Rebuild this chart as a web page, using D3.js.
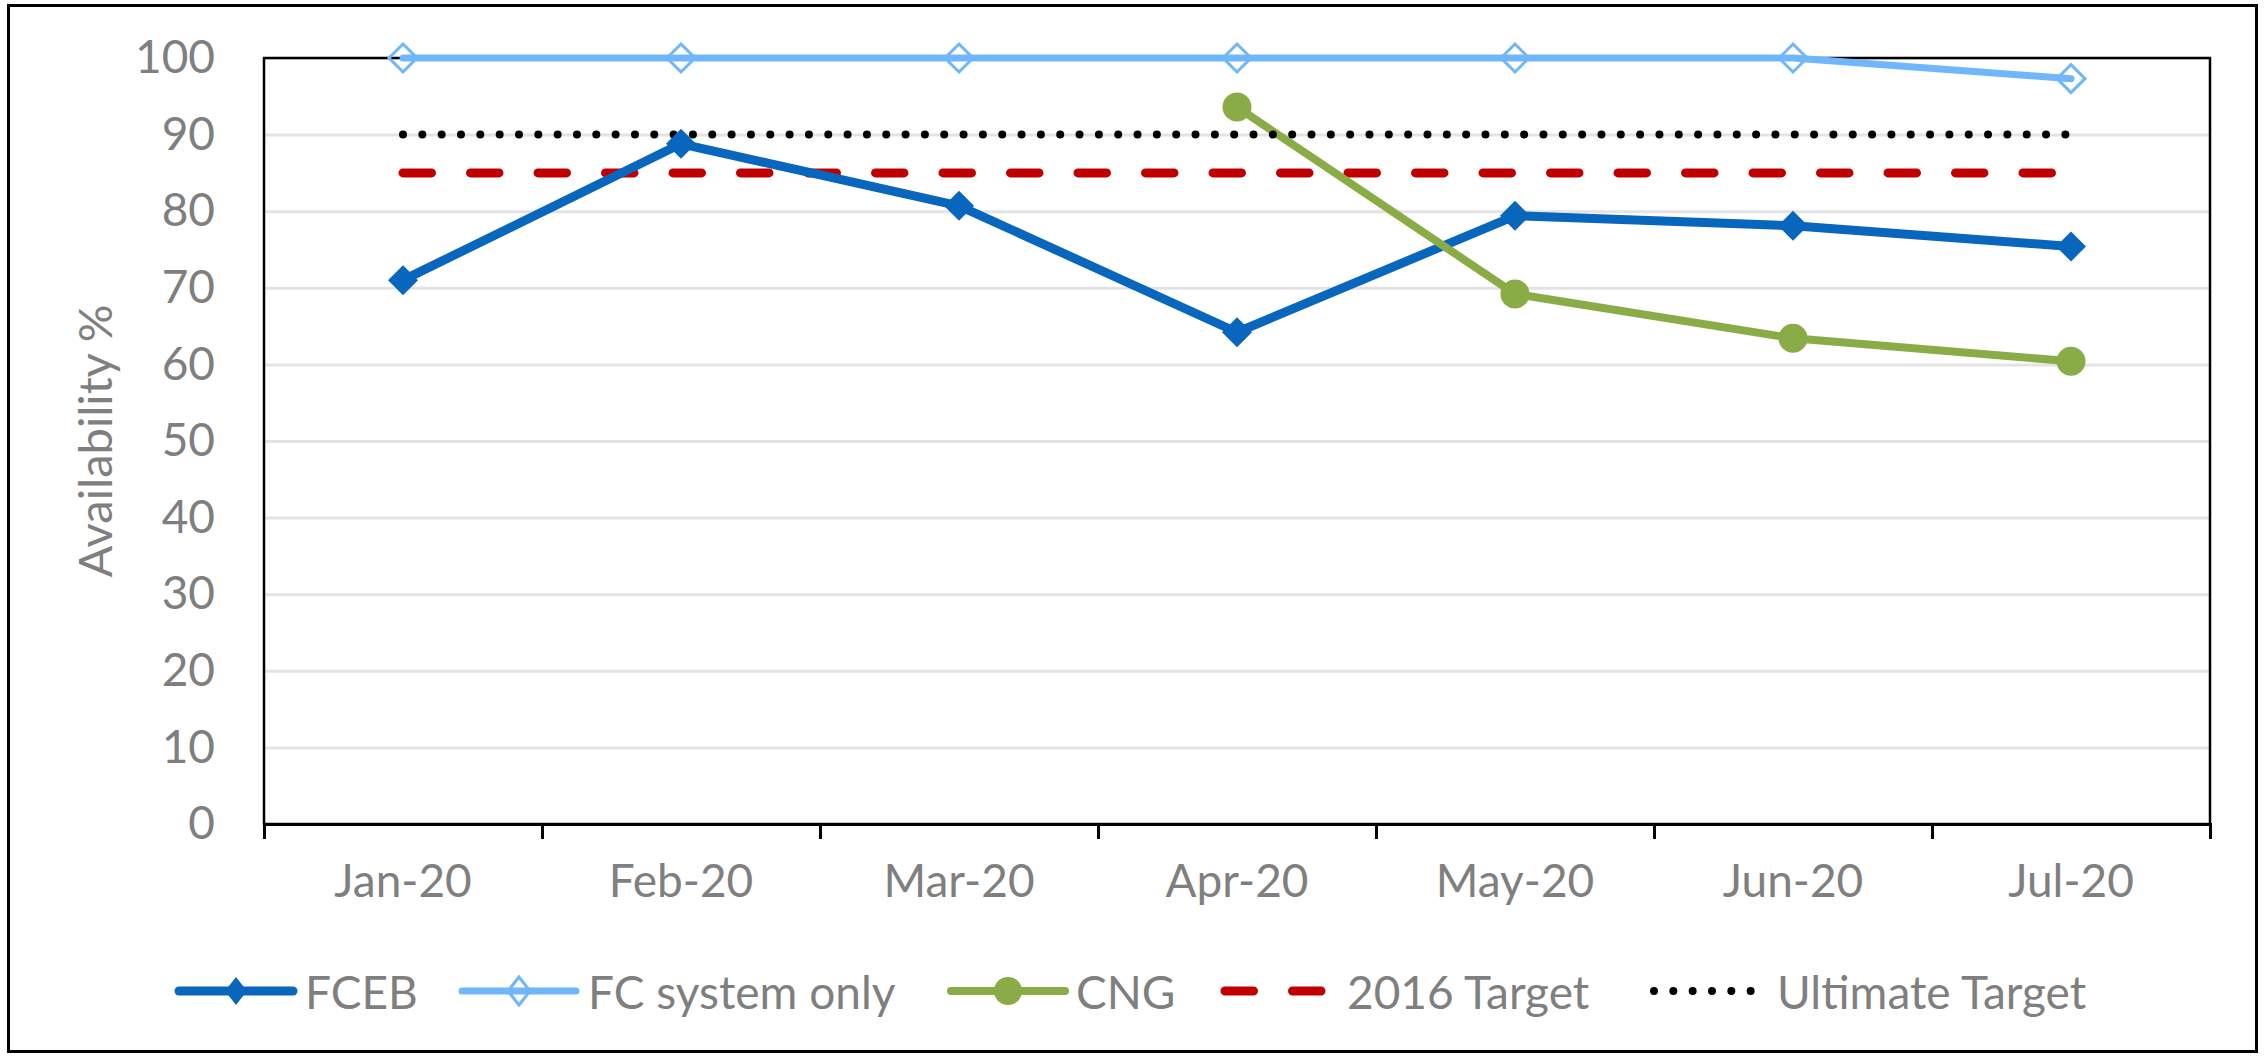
<!DOCTYPE html>
<html><head><meta charset="utf-8">
<script src="https://cdn.jsdelivr.net/npm/d3@7"></script>
<style>body{margin:0;background:#fff;} svg{display:block}</style>
</head><body><svg id="c" width="2265" height="1058"></svg>
<script>
const months = ["Jan-20","Feb-20","Mar-20","Apr-20","May-20","Jun-20","Jul-20"];
const fceb = [71.0, 88.8, 80.7, 64.2, 79.4, 78.1, 75.4];
const fcSystem = [100, 100, 100, 100, 100, 100, 97.3];
const cng = [null, null, null, 93.6, 69.2, 63.4, 60.4];
const target2016 = [85, 85, 85, 85, 85, 85, 85];
const ultimateTarget = [90, 90, 90, 90, 90, 90, 90];
const yTicks = [0, 10, 20, 30, 40, 50, 60, 70, 80, 90, 100];
const yTitle = "Availability %";
const seriesNames = ["FCEB", "FC system only", "CNG", "2016 Target", "Ultimate Target"];

const FONT = "Lato, 'Open Sans', sans-serif";
const GRAY = "#7f7f7f";
const C_FCEB = "#0866bc", C_FC = "#6fb7fa", C_CNG = "#8aac46", C_RED = "#c00000";

const L = 264, R = 2210, T = 58, B = 824;
const svg = d3.select("#c");

svg.append("rect").attr("x", 8.5).attr("y", 5.5).attr("width", 2248).attr("height", 1046)
  .attr("fill", "#fff").attr("stroke", "#000").attr("stroke-width", 3);

const x = d3.scaleBand().domain(months).range([L, R]);
const xc = m => x(m) + x.bandwidth() / 2;
const xIdx = d3.scaleLinear().domain([0, months.length]).range([L, R]);
const y = d3.scaleLinear().domain([0, 100]).range([B, T]);

// gridlines
const grid = svg.append("g").attr("transform", `translate(${L},0)`)
  .call(d3.axisLeft(y).tickValues(yTicks).tickSize(-(R - L)).tickFormat(""));
grid.select(".domain").remove();
grid.selectAll("line").attr("stroke", "#e3e3e3").attr("stroke-width", 3);

// y labels
const ya = svg.append("g").attr("transform", `translate(${L},0)`)
  .call(d3.axisLeft(y).tickValues(yTicks).tickSize(0).tickPadding(49));
ya.select(".domain").remove();
ya.selectAll("text").attr("font-family", FONT).attr("font-size", 46).attr("fill", GRAY);

// plot border
svg.append("rect").attr("x", L).attr("y", T).attr("width", R - L).attr("height", B - T)
  .attr("fill", "none").attr("stroke", "#000").attr("stroke-width", 2.5);

// x ticks at category boundaries
const xt = svg.append("g").attr("transform", `translate(0,${B})`)
  .call(d3.axisBottom(xIdx).tickValues(d3.range(months.length + 1)).tickSize(15).tickFormat(""));
xt.select(".domain").attr("stroke", "#000").attr("stroke-width", 3);
xt.selectAll("line").attr("stroke", "#000").attr("stroke-width", 3);

// x labels
const xa = svg.append("g").attr("transform", `translate(0,${B})`)
  .call(d3.axisBottom(x).tickSize(0).tickPadding(40));
xa.select(".domain").remove();
xa.selectAll("text").attr("font-family", FONT).attr("font-size", 46).attr("fill", GRAY);

// y title
svg.append("text").attr("transform", `translate(112,441) rotate(-90)`)
  .attr("text-anchor", "middle")
  .attr("font-family", FONT).attr("font-size", 46).attr("fill", GRAY)
  .attr("textLength", 273).attr("lengthAdjust", "spacingAndGlyphs").text(yTitle);

const line = d3.line().defined(d => d.v != null).x(d => xc(d.m)).y(d => y(d.v));
const toPts = arr => months.map((m, i) => ({m, v: arr[i]}));

function drawLine(arr, color, w, dash) {
  const p = svg.append("path").datum(toPts(arr)).attr("d", line)
    .attr("fill", "none").attr("stroke", color).attr("stroke-width", w)
    .attr("stroke-linecap", "round").attr("stroke-linejoin", "round");
  if (dash) p.attr("stroke-dasharray", dash);
  return p;
}

drawLine(target2016, C_RED, 9, "28.5 39");
drawLine(fceb, C_FCEB, 9);
drawLine(fcSystem, C_FC, 7);
drawLine(cng, C_CNG, 8);
drawLine(ultimateTarget, "#000", 8, "0 19.33");

function diamondPath(s) { return `M0,${-s}L${s},0L0,${s}L${-s},0Z`; }

svg.append("g").selectAll("path").data(toPts(fceb)).join("path")
  .attr("d", diamondPath(15)).attr("transform", d => `translate(${xc(d.m)},${y(d.v)})`)
  .attr("fill", C_FCEB);
svg.append("g").selectAll("path").data(toPts(fcSystem)).join("path")
  .attr("d", diamondPath(14)).attr("transform", d => `translate(${xc(d.m)},${y(d.v)})`)
  .attr("fill", "none").attr("stroke", C_FC).attr("stroke-width", 3);
svg.append("g").selectAll("circle").data(toPts(cng).filter(d => d.v != null)).join("circle")
  .attr("cx", d => xc(d.m)).attr("cy", d => y(d.v)).attr("r", 14.5).attr("fill", C_CNG);

// legend
const LY = 991;
const legendItems = [
  {name: seriesNames[0], x0: 179, x1: 293, tx: 305, color: C_FCEB, w: 9, marker: "fd"},
  {name: seriesNames[1], x0: 462, x1: 576, tx: 588, color: C_FC, w: 7, marker: "hd"},
  {name: seriesNames[2], x0: 951, x1: 1065, tx: 1076, color: C_CNG, w: 8, marker: "c"},
  {name: seriesNames[3], x0: 1225, x1: 1323, tx: 1347, color: C_RED, w: 9, dash: "28.5 39"},
  {name: seriesNames[4], x0: 1654, x1: 1751, tx: 1777, color: "#000", w: 8, dash: "0 19.33"}
];
const lg = svg.append("g").selectAll("g").data(legendItems).join("g");
lg.append("line").attr("x1", d => d.x0).attr("x2", d => d.x1).attr("y1", LY).attr("y2", LY)
  .attr("stroke", d => d.color).attr("stroke-width", d => d.w).attr("stroke-linecap", "round")
  .attr("stroke-dasharray", d => d.dash || null);
lg.filter(d => d.marker === "fd").append("path").attr("d", "M0,-14L11,0L0,14L-11,0Z")
  .attr("transform", d => `translate(${(d.x0 + d.x1) / 2},${LY})`).attr("fill", d => d.color);
lg.filter(d => d.marker === "hd").append("path").attr("d", "M0,-14L11,0L0,14L-11,0Z")
  .attr("transform", d => `translate(${(d.x0 + d.x1) / 2},${LY})`).attr("fill", "none")
  .attr("stroke", d => d.color).attr("stroke-width", 3);
lg.filter(d => d.marker === "c").append("circle").attr("cx", d => (d.x0 + d.x1) / 2).attr("cy", LY)
  .attr("r", 14).attr("fill", d => d.color);
lg.append("text").attr("x", d => d.tx).attr("y", LY).attr("dominant-baseline", "central")
  .attr("font-family", FONT).attr("font-size", 46).attr("fill", GRAY).text(d => d.name);
</script></body></html>
